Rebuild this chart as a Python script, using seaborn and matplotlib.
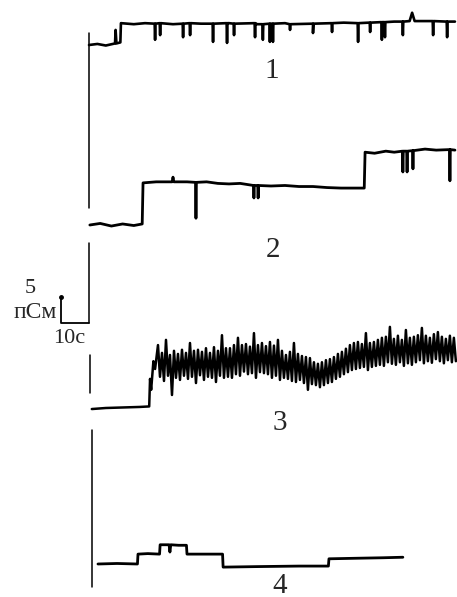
import numpy as np
import pandas as pd
import matplotlib
matplotlib.use("Agg")
import matplotlib.pyplot as plt
import seaborn as sns

sns.set_theme(style="white")
plt.rcParams['font.family'] = ['Liberation Serif', 'DejaVu Serif']

# ---- data: time (s), conductance (pS) ----
trace1_levels = [
    (0, 0.0), (3, 0.2), (6, -0.1), (9.3, 0.3), (9.5, 2.9), (9.8, 0.3), (11.2, 0.5),
    (11.4, 4.2), (16, 4.0), (20, 4.2), (30, 4.0), (40, 4.1), (50, 4.2), (60, 4.0),
    (70, 4.2), (80, 4.0), (91, 4.3), (100, 4.3), (109, 4.5), (114.5, 4.6),
    (115.4, 6.2), (116.3, 4.6), (122, 4.6), (130.7, 4.5),
]
# (time, level before event, depth of closing event)
trace1_events = [
    (23.6, 4.1, 1.0), (25.4, 4.2, 1.9), (33.6, 4.1, 1.5), (36.1, 4.2, 1.9),
    (44.3, 4.1, 0.6), (49.3, 4.2, 0.4), (51.8, 4.1, 1.9), (59.3, 4.2, 1.5),
    (62.1, 4.0, 1.0), (64.6, 4.1, 0.6), (65.7, 4.1, 0.6), (71.8, 4.0, 2.9),
    (80.0, 4.1, 2.3), (86.8, 4.2, 2.5), (96.1, 4.2, 0.6), (100.4, 4.3, 2.5),
    (104.6, 4.4, 1.0), (105.7, 4.4, 1.5), (112.1, 4.5, 1.9), (122.9, 4.6, 1.9),
    (127.9, 4.5, 1.5),
]

trace2_levels = [
    (0.3, 0.0), (4, 0.3), (8, -0.2), (12, 0.2), (16, -0.1), (19.0, 0.2),
    (19.3, 8.1), (24, 8.3), (29.7, 8.3), (30.0, 9.2), (30.3, 8.3), (35, 8.3),
    (42, 8.3), (46, 8.0), (50, 7.9), (54, 8.0), (65, 7.5), (70, 7.6), (75, 7.4),
    (80, 7.4), (85, 7.2), (90, 7.1), (95, 7.1), (98.3, 7.1), (98.6, 14.0),
    (102, 13.8), (106, 14.2), (109, 14.0), (120, 14.6), (124, 14.4), (130.7, 14.4),
]
trace2_events = [
    (38.2, 8.2, 1.3), (58.9, 7.6, 5.2), (60.4, 7.6, 5.2), (112.1, 14.2, 10.2),
    (113.6, 14.2, 10.2), (115.7, 14.3, 10.8), (128.9, 14.5, 8.5),
]

trace3_baseline = [
    (1.0, -0.2), (6, 0.0), (12, 0.1), (18, 0.2), (21.5, 0.3), (21.8, 5.6),
    (22.2, 3.5), (23.0, 9.0), (23.6, 7.5),
]
trace3_noise_t0 = 24.64      # s, first sample of the noisy part
trace3_noise_dt = 0.714      # s between samples
trace3_noise = [
    12.1, 6.0, 10.6, 5.2, 13.1, 6.2, 10.2, 2.5, 11.0, 5.8,
    10.4, 5.4, 11.2, 6.2, 10.6, 5.6, 12.5, 6.0, 11.0, 4.8,
    11.2, 6.3, 10.8, 5.4, 11.5, 6.0, 10.6, 5.8, 11.7, 5.0,
    11.0, 6.2, 14.0, 5.8, 11.5, 6.0, 11.5, 5.8, 12.1, 6.5,
    13.5, 6.2, 12.1, 7.0, 12.3, 6.5, 11.8, 6.7, 14.4, 5.8,
    12.1, 6.9, 12.5, 6.7, 11.9, 6.5, 12.7, 5.8, 12.0, 6.2,
    13.1, 5.4, 11.0, 5.8, 10.2, 5.6, 10.8, 5.2, 12.5, 5.0,
    10.4, 5.4, 10.0, 4.8, 9.8, 3.5, 9.6, 4.6, 8.8, 4.4,
    8.5, 4.0, 8.8, 4.4, 9.2, 4.8, 9.4, 5.0, 9.8, 5.6,
    10.4, 6.0, 10.8, 6.5, 11.4, 6.9, 12.1, 7.3, 12.5, 7.5,
    12.7, 7.7, 12.3, 7.9, 14.4, 7.3, 12.5, 7.9, 12.7, 8.1,
    13.1, 8.3, 13.5, 8.1, 13.7, 8.8, 15.6, 8.5, 13.3, 8.3,
    13.9, 8.8, 13.1, 8.1, 15.0, 8.6, 13.5, 8.3, 13.7, 8.8,
    14.0, 9.2, 15.4, 8.6, 13.9, 9.0, 13.5, 8.7, 14.2, 9.4,
    14.6, 9.0, 13.7, 8.6, 13.3, 9.2, 13.9, 8.8, 13.5, 9.0,
]

trace4_levels = [
    (3.2, 0.0), (10, 0.1), (17.3, 0.0), (17.5, 1.9), (21, 2.0), (25.2, 1.9),
    (25.4, 3.7), (28.6, 3.7), (28.9, 2.3), (29.2, 3.7), (32, 3.6), (34.8, 3.6),
    (35.0, 1.9), (40, 1.9), (47.7, 1.9), (47.9, -0.6), (60, -0.5), (75, -0.4),
    (85.5, -0.4), (85.7, 1.0), (95, 1.1), (105, 1.2), (112.1, 1.3),
]

trace_labels = ["1", "2", "3", "4"]
scale_time_s = 10
scale_cond_pS = 5
scale_time_label = "10с"
scale_cond_labels = ["5", "пСм"]

# ---- layout (2.8 px per s, 5.2 px per pS) ----
PX_PER_S = 2.8
PX_PER_PS = 5.2
W, H = 457, 597
X0 = 89  # pixel of t = 0
offsets = [-45 / PX_PER_PS, -225 / PX_PER_PS, -408 / PX_PER_PS, -564 / PX_PER_PS]
label_pos = [(65.4, -13.65), (65.7, -48.1), (68.2, -81.3), (68.2, -112.6)]
EV_HALF = 0.15  # half width of a brief closing event, s


def with_events(levels, events):
    pts = list(levels)
    for t, lvl, depth in events:
        pts += [(t - EV_HALF, lvl), (t, depth), (t + EV_HALF, lvl)]
    pts.sort(key=lambda p: p[0])
    return pd.DataFrame(pts, columns=["t", "g"])


d1 = with_events(trace1_levels, trace1_events)
d2 = with_events(trace2_levels, trace2_events)
noise_t = trace3_noise_t0 + trace3_noise_dt * np.arange(len(trace3_noise))
d3 = pd.concat([pd.DataFrame(trace3_baseline, columns=["t", "g"]),
                pd.DataFrame({"t": noise_t, "g": trace3_noise})], ignore_index=True)
d4 = pd.DataFrame(trace4_levels, columns=["t", "g"])

frames = []
for name, d, off in zip(trace_labels, [d1, d2, d3, d4], offsets):
    d = d.copy()
    d["trace"] = name
    d["y"] = d["g"] + off
    frames.append(d)
data = pd.concat(frames, ignore_index=True)

fig = plt.figure(figsize=(W / 100, H / 100), dpi=100)
ax = fig.add_axes([0, 0, 1, 1])
ax.set_xlim(-X0 / PX_PER_S, (W - X0) / PX_PER_S)
ax.set_ylim(-H / PX_PER_PS, 0)
ax.axis("off")

widths = {"1": 1.9, "2": 2.0, "3": 1.8, "4": 2.0}
for name in trace_labels:
    sub = data[data["trace"] == name]
    sns.lineplot(data=sub, x="t", y="y", ax=ax, color="black", lw=widths[name],
                 estimator=None, sort=False, legend=False)

# stimulus marker lines
mk = dict(color="black", lw=1.1)
ax.plot([0, 0], [-33 / PX_PER_PS, -208 / PX_PER_PS], **mk)
ax.plot([0, 0], [-243 / PX_PER_PS, -323 / PX_PER_PS], **mk)
ax.plot([0.36, 0.36], [-355 / PX_PER_PS, -393 / PX_PER_PS], **mk)
ax.plot([1.07, 1.07], [-430 / PX_PER_PS, -587 / PX_PER_PS], **mk)

# scale bar
sb_y = -323 / PX_PER_PS
ax.plot([-scale_time_s, -scale_time_s, 0], [sb_y + scale_cond_pS, sb_y, sb_y],
        color="black", lw=1.3)
ax.plot([-scale_time_s], [sb_y + scale_cond_pS], "o", color="black", ms=2.5)

ax.text(-21.1, -55.4, scale_cond_labels[0], fontsize=16, ha="center", va="center")
ax.text(-11.3, -60.0, scale_cond_labels[1], fontsize=17, ha="right", va="center")
ax.text(-7.2, -65.0, scale_time_label, fontsize=16, ha="center", va="center")

for lab, (tx, ty) in zip(trace_labels, label_pos):
    ax.text(tx, ty, lab, fontsize=21, ha="center", va="center")

fig.savefig("out.png", dpi=100, facecolor="white")
